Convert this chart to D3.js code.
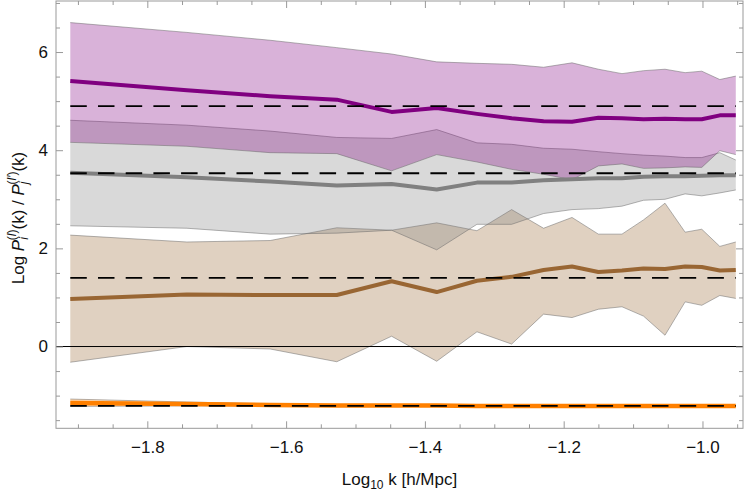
<!DOCTYPE html>
<html>
<head>
<meta charset="utf-8">
<script src="https://cdn.jsdelivr.net/npm/d3@7"></script>
<style>
  body { margin: 0; background: #fff; }
  text { font-family: "Liberation Sans", Arial, sans-serif; }
</style>
</head>
<body>
<div id="chart"></div>
<script>
// log10 k bin centres
var logk = [-1.911, -1.743, -1.623, -1.527, -1.448, -1.383, -1.325, -1.275, -1.229,
            -1.188, -1.150, -1.116, -1.085, -1.054, -1.025, -1.001, -0.975, -0.952];

var purpleMean = [5.41, 5.22, 5.10, 5.03, 4.78, 4.86, 4.74, 4.65, 4.59, 4.58, 4.66, 4.65, 4.63, 4.64, 4.63, 4.63, 4.71, 4.71];
var purpleHi   = [6.60, 6.40, 6.24, 6.09, 5.96, 5.80, 5.77, 5.75, 5.69, 5.78, 5.65, 5.56, 5.62, 5.65, 5.58, 5.61, 5.44, 5.51];
var purpleLo   = [4.16, 4.08, 3.95, 3.93, 3.58, 3.91, 3.76, 3.61, 3.51, 3.40, 3.68, 3.72, 3.63, 3.64, 3.66, 3.65, 3.99, 3.91];

var greyMean = [3.54, 3.45, 3.36, 3.28, 3.31, 3.20, 3.34, 3.34, 3.39, 3.41, 3.43, 3.43, 3.46, 3.47, 3.47, 3.48, 3.49, 3.49];
var greyHi   = [4.61, 4.51, 4.39, 4.26, 4.24, 4.42, 4.15, 4.12, 4.04, 4.02, 3.97, 3.93, 3.90, 3.88, 3.85, 3.85, 3.95, 3.80];
var greyLo   = [2.46, 2.41, 2.29, 2.31, 2.37, 1.97, 2.49, 2.49, 2.71, 2.79, 2.81, 2.86, 2.98, 3.00, 3.11, 3.07, 3.13, 3.19];

var brownMean = [0.97, 1.06, 1.05, 1.05, 1.33, 1.11, 1.34, 1.42, 1.56, 1.63, 1.52, 1.55, 1.59, 1.58, 1.63, 1.62, 1.55, 1.56];
var brownHi   = [2.27, 2.13, 2.16, 2.42, 2.37, 2.52, 2.36, 2.79, 2.41, 2.63, 2.29, 2.29, 2.58, 2.92, 2.33, 2.39, 2.04, 2.13];
var brownLo   = [-0.32, 0.00, -0.05, -0.31, 0.21, -0.30, 0.30, 0.05, 0.66, 0.59, 0.76, 0.81, 0.62, 0.23, 0.91, 0.84, 1.04, 0.98];

var orangeMean = [-1.15, -1.17, -1.19, -1.20, -1.20, -1.20, -1.21, -1.21, -1.21, -1.21, -1.21, -1.21, -1.21, -1.21, -1.21, -1.21, -1.21, -1.21];
var orangeHi   = [-1.07, -1.13, -1.17, -1.19, -1.19, -1.19, -1.20, -1.20, -1.20, -1.20, -1.20, -1.20, -1.20, -1.20, -1.20, -1.20, -1.20, -1.20];
var orangeLo   = [-1.22, -1.21, -1.21, -1.22, -1.22, -1.22, -1.22, -1.22, -1.22, -1.22, -1.22, -1.22, -1.22, -1.22, -1.22, -1.22, -1.22, -1.22];

// dashed reference levels
var refLevels = [4.90, 3.53, 1.40, -1.21];

var xMajor = [-1.8, -1.6, -1.4, -1.2, -1.0];
var yMajor = [0, 2, 4, 6];

var series = [
  {name: "orange", mean: orangeMean, lo: orangeLo, hi: orangeHi, color: "#ff8000", w: 4.5},
  {name: "brown",  mean: brownMean,  lo: brownLo,  hi: brownHi,  color: "#996633", w: 4},
  {name: "grey",   mean: greyMean,   lo: greyLo,   hi: greyHi,   color: "#808080", w: 4},
  {name: "purple", mean: purpleMean, lo: purpleLo, hi: purpleHi, color: "#800080", w: 4}
];

var margin = {top: 1, right: 7, bottom: 63.7, left: 56},
    width = 750 - margin.left - margin.right,
    height = 492 - margin.top - margin.bottom;

var fs = 17;

var svg = d3.select("#chart")
  .append("svg")
    .attr("width", 750)
    .attr("height", 492)
  .append("g")
    .attr("transform", "translate(" + margin.left + "," + margin.top + ")");

var x = d3.scaleLinear().domain([-1.9316, -0.9416]).range([0, width]);
var y = d3.scaleLinear().domain([-1.666, 7.04]).range([height, 0]);

var idx = d3.range(logk.length);

// bands
series.forEach(function(s) {
  var area = d3.area()
    .x(function(i) { return x(logk[i]); })
    .y0(function(i) { return y(s.lo[i]); })
    .y1(function(i) { return y(s.hi[i]); });
  svg.append("path")
    .datum(idx)
    .attr("d", area)
    .attr("fill", s.color)
    .attr("fill-opacity", 0.3);
  ["lo", "hi"].forEach(function(k) {
    svg.append("path")
      .datum(idx)
      .attr("d", d3.line()
        .x(function(i) { return x(logk[i]); })
        .y(function(i) { return y(s[k][i]); }))
      .attr("fill", "none")
      .attr("stroke", "#666")
      .attr("stroke-opacity", 0.7)
      .attr("stroke-width", 0.7);
  });
});

// zero line
svg.append("line")
  .attr("x1", 0).attr("x2", width)
  .attr("y1", y(0)).attr("y2", y(0))
  .attr("stroke", "#000")
  .attr("stroke-width", 1);

// mean curves
series.forEach(function(s) {
  svg.append("path")
    .datum(idx)
    .attr("d", d3.line()
      .x(function(i) { return x(logk[i]); })
      .y(function(i) { return y(s.mean[i]); }))
    .attr("fill", "none")
    .attr("stroke", s.color)
    .attr("stroke-width", s.w)
    .attr("stroke-linejoin", "round");
});

// dashed reference lines
svg.selectAll(".ref")
  .data(refLevels)
  .enter()
  .append("line")
    .attr("class", "ref")
    .attr("x1", x(logk[0]))
    .attr("x2", x(logk[logk.length - 1]))
    .attr("y1", function(d) { return y(d); })
    .attr("y2", function(d) { return y(d); })
    .attr("stroke", "#000")
    .attr("stroke-width", 1.8)
    .attr("stroke-dasharray", "16.5,11.2");

// frame + ticks
var frameCol = "#999";
var xMinor = d3.range(-38, -18).map(function(v) { return v * 0.05; })
  .filter(function(v) { return !xMajor.some(function(m) { return Math.abs(m - v) < 1e-6; }); });
var yMinor = d3.range(-3, 15).map(function(v) { return v * 0.5; })
  .filter(function(v) { return v % 2 !== 0; });

function styleAxis(g) {
  g.select(".domain").remove();
  g.selectAll(".tick line").attr("stroke", frameCol);
  g.selectAll("text")
    .attr("font-size", fs)
    .attr("fill", "#111")
    .style("font-family", "'Liberation Sans', Arial, sans-serif");
}

svg.append("g")
  .attr("transform", "translate(0," + height + ")")
  .call(d3.axisBottom(x).tickValues(xMajor).tickSize(-7).tickPadding(13)
    .tickFormat(d3.format(".1f")))
  .call(styleAxis);
svg.append("g")
  .attr("transform", "translate(0," + height + ")")
  .call(d3.axisBottom(x).tickValues(xMinor).tickSize(-4).tickFormat(""))
  .call(styleAxis);
svg.append("g")
  .call(d3.axisTop(x).tickValues(xMajor).tickSize(-7).tickFormat(""))
  .call(styleAxis);
svg.append("g")
  .call(d3.axisTop(x).tickValues(xMinor).tickSize(-4).tickFormat(""))
  .call(styleAxis);

svg.append("g")
  .call(d3.axisLeft(y).tickValues(yMajor).tickSize(-7).tickPadding(8)
    .tickFormat(d3.format("d")))
  .call(styleAxis);
svg.append("g")
  .call(d3.axisLeft(y).tickValues(yMinor).tickSize(-4).tickFormat(""))
  .call(styleAxis);
svg.append("g")
  .attr("transform", "translate(" + width + ",0)")
  .call(d3.axisRight(y).tickValues(yMajor).tickSize(-7).tickFormat(""))
  .call(styleAxis);
svg.append("g")
  .attr("transform", "translate(" + width + ",0)")
  .call(d3.axisRight(y).tickValues(yMinor).tickSize(-4).tickFormat(""))
  .call(styleAxis);

svg.append("rect")
  .attr("x", 0).attr("y", 0)
  .attr("width", width).attr("height", height)
  .attr("fill", "none")
  .attr("stroke", frameCol)
  .attr("stroke-width", 1);

// axis titles
var xt = svg.append("text")
  .attr("x", width / 2)
  .attr("y", 485 - margin.top)
  .attr("text-anchor", "middle")
  .attr("font-size", fs)
  .attr("fill", "#111");
xt.append("tspan").text("Log");
xt.append("tspan").attr("font-size", 12).attr("dy", 4).text("10");
xt.append("tspan").attr("dy", -4).text(" k [h/Mpc]");

var yt = svg.append("text")
  .attr("transform", "translate(" + (24 - margin.left) + "," + (218 - margin.top) + ") rotate(-90)")
  .attr("text-anchor", "middle")
  .attr("font-size", fs)
  .attr("fill", "#111");
yt.append("tspan").text("Log ");
yt.append("tspan").attr("font-style", "italic").text("P");
yt.append("tspan").attr("font-size", 12).attr("font-style", "italic").attr("dy", 4).text("i");
yt.append("tspan").attr("font-size", 12).attr("dx", -3).attr("dy", -12).text("(");
yt.append("tspan").attr("font-size", 12).attr("font-style", "italic").text("l");
yt.append("tspan").attr("font-size", 12).text(")");
yt.append("tspan").attr("dy", 8).text("(k) / ");
yt.append("tspan").attr("font-style", "italic").text("P");
yt.append("tspan").attr("font-size", 12).attr("font-style", "italic").attr("dy", 4).text("j");
yt.append("tspan").attr("font-size", 12).attr("dx", -3).attr("dy", -12).text("(");
yt.append("tspan").attr("font-size", 12).attr("font-style", "italic").text("l\u2032");
yt.append("tspan").attr("font-size", 12).text(")");
yt.append("tspan").attr("dy", 8).text("(k)");
</script>
</body>
</html>
